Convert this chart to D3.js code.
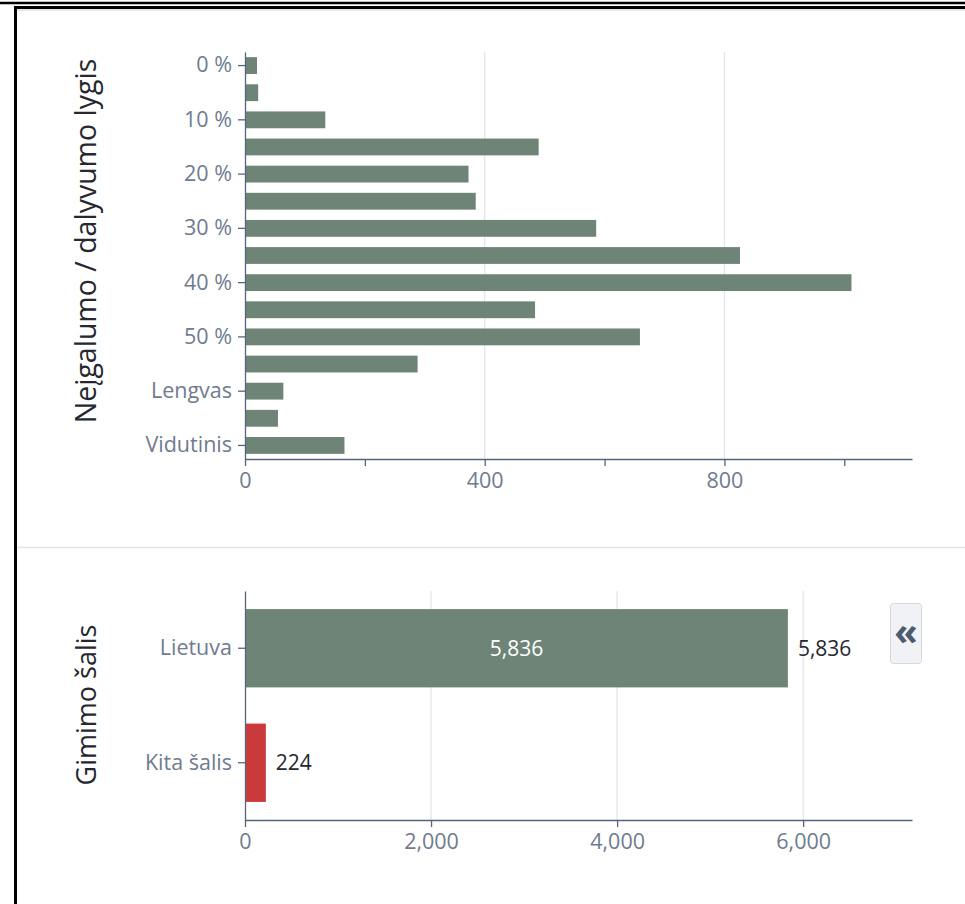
<!DOCTYPE html>
<html>
<head>
<meta charset="utf-8">
<script src="https://cdn.jsdelivr.net/npm/d3@7"></script>
<style>
  body { margin: 0; background: #fff; }
  svg { display: block; font-family: "Open Sans", sans-serif; }
  .axis .domain, .axis .tick line { stroke: #56657c; stroke-width: 1.3; }
  .axis text { fill: #6f7b8f; font-size: 21.5px; font-family: "Open Sans", sans-serif; }
</style>
</head>
<body>
<div id="chart"></div>
<script>
// disability / participation level
const levelCats = ['0 %', '5 %', '10 %', '15 %', '20 %', '25 %', '30 %', '35 %', '40 %', '45 %', '50 %', '55 %', 'Lengvas', 'Sunkus', 'Vidutinis'];
const levelCounts = [20, 22, 134, 490, 373, 385, 586, 826, 1012, 484, 659, 288, 64, 55, 166];
const levelTickLabels = ['0 %', '10 %', '20 %', '30 %', '40 %', '50 %', 'Lengvas', 'Vidutinis'];
const levelXTicks = [0, 200, 400, 600, 800, 1000];
const levelXLabels = [0, 400, 800];

// country of birth
const countryCats = ['Lietuva', 'Kita šalis'];
const countryCounts = [5836, 224];
const countryColors = ['#687f70', '#c83232'];
const countryXTicks = [0, 2000, 4000, 6000];

const W = 965, H = 904;
const svg = d3.select('#chart').append('svg')
  .attr('width', W).attr('height', H);

// frame
svg.append('line').attr('x1', 0).attr('x2', W).attr('y1', 3).attr('y2', 3)
  .attr('stroke', '#000').attr('stroke-width', 2.5);
svg.append('path').attr('d', `M15.5,${H} V7.5 H${W}`)
  .attr('fill', 'none').attr('stroke', '#000').attr('stroke-width', 3);
svg.append('line').attr('x1', 17).attr('x2', W).attr('y1', 10).attr('y2', 10)
  .attr('stroke', '#d0d0d0').attr('stroke-width', 1);

// separator between charts
svg.append('line').attr('x1', 17).attr('x2', W).attr('y1', 547.5).attr('y2', 547.5)
  .attr('stroke', '#e3e3e3').attr('stroke-width', 1.5);

function drawTitle(text, cy, size) {
  svg.append('text')
    .attr('transform', `translate(96,${cy}) rotate(-90)`)
    .attr('text-anchor', 'middle')
    .attr('font-size', size)
    .attr('fill', '#262730')
    .text(text);
}

// ---- top chart ----
const x1 = d3.scaleLinear().domain([0, 1113]).range([245, 912]);
const y1 = d3.scaleBand().domain(levelCats).range([52, 459])
  .paddingInner(0.38).paddingOuter(0.19);

const topChart = svg.append('g');
topChart.append('g')
  .selectAll('line')
  .data(levelXLabels.filter(d => d > 0))
  .enter().append('line')
  .attr('x1', d => x1(d)).attr('x2', d => x1(d))
  .attr('y1', 52).attr('y2', 459)
  .attr('stroke', '#e2e6ec').attr('stroke-width', 1.3);

topChart.append('g')
  .selectAll('rect')
  .data(levelCats)
  .enter().append('rect')
  .attr('x', x1(0))
  .attr('y', d => y1(d))
  .attr('width', (d, i) => x1(levelCounts[i]) - x1(0))
  .attr('height', y1.bandwidth())
  .attr('fill', '#687f70')
  .attr('fill-opacity', 0.96);

topChart.append('g')
  .attr('class', 'axis')
  .attr('transform', 'translate(0,459)')
  .call(d3.axisBottom(x1).tickValues(levelXTicks).tickSize(7).tickSizeOuter(0)
    .tickFormat(d => levelXLabels.includes(d) ? d : ''))
  .selectAll('text').attr('dy', '0.9em');

topChart.append('g')
  .attr('class', 'axis')
  .attr('transform', `translate(${x1(0)},0)`)
  .call(d3.axisLeft(y1).tickValues(levelTickLabels).tickSize(7).tickPadding(6).tickSizeOuter(0));

drawTitle('Neįgalumo / dalyvumo lygis', 241, 28.5);

// ---- bottom chart ----
const x2 = d3.scaleLinear().domain([0, 7170]).range([245, 912]);
const y2 = d3.scaleBand().domain(countryCats).range([591, 820])
  .paddingInner(0.316).paddingOuter(0.158);

const bottomChart = svg.append('g');
bottomChart.append('g')
  .selectAll('line')
  .data(countryXTicks.filter(d => d > 0))
  .enter().append('line')
  .attr('x1', d => x2(d)).attr('x2', d => x2(d))
  .attr('y1', 591).attr('y2', 820)
  .attr('stroke', '#e2e6ec').attr('stroke-width', 1.3);

bottomChart.append('g')
  .selectAll('rect')
  .data(countryCats)
  .enter().append('rect')
  .attr('x', x2(0))
  .attr('y', d => y2(d))
  .attr('width', (d, i) => x2(countryCounts[i]) - x2(0))
  .attr('height', y2.bandwidth())
  .attr('fill', (d, i) => countryColors[i])
  .attr('fill-opacity', 0.96);

const fmt = d3.format(',');
// value inside the long bar
bottomChart.append('g')
  .selectAll('text')
  .data(countryCats.filter((d, i) => x2(countryCounts[i]) - x2(0) > 80))
  .enter().append('text')
  .attr('x', d => (x2(0) + x2(countryCounts[countryCats.indexOf(d)])) / 2)
  .attr('y', d => y2(d) + y2.bandwidth() / 2)
  .attr('dy', '0.35em')
  .attr('text-anchor', 'middle')
  .attr('font-size', 21)
  .attr('fill', '#fff')
  .text(d => fmt(countryCounts[countryCats.indexOf(d)]));

// value beside each bar
bottomChart.append('g')
  .selectAll('text')
  .data(countryCats)
  .enter().append('text')
  .attr('x', (d, i) => x2(countryCounts[i]) + 10)
  .attr('y', d => y2(d) + y2.bandwidth() / 2)
  .attr('dy', '0.35em')
  .attr('font-size', 21)
  .attr('fill', '#262730')
  .text((d, i) => fmt(countryCounts[i]));

bottomChart.append('g')
  .attr('class', 'axis')
  .attr('transform', 'translate(0,820)')
  .call(d3.axisBottom(x2).tickValues(countryXTicks).tickSize(7).tickSizeOuter(0)
    .tickFormat(fmt))
  .selectAll('text').attr('dy', '0.9em');

bottomChart.append('g')
  .attr('class', 'axis')
  .attr('transform', `translate(${x2(0)},0)`)
  .call(d3.axisLeft(y2).tickSize(7).tickPadding(6).tickSizeOuter(0));

drawTitle('Gimimo šalis', 705, 27);

// sidebar collapse button
const btn = svg.append('g').attr('transform', 'translate(890,603)');
btn.append('rect').attr('x', 0.5).attr('y', 0.5).attr('width', 31).attr('height', 60)
  .attr('rx', 3).attr('fill', '#f0f2f6').attr('stroke', '#d3d7de');
btn.append('text').attr('x', 16).attr('y', 29).attr('dy', '0.35em')
  .attr('text-anchor', 'middle').attr('font-size', 38).attr('font-weight', 'bold')
  .attr('fill', '#4c5a72').text('«');
</script>
</body>
</html>
